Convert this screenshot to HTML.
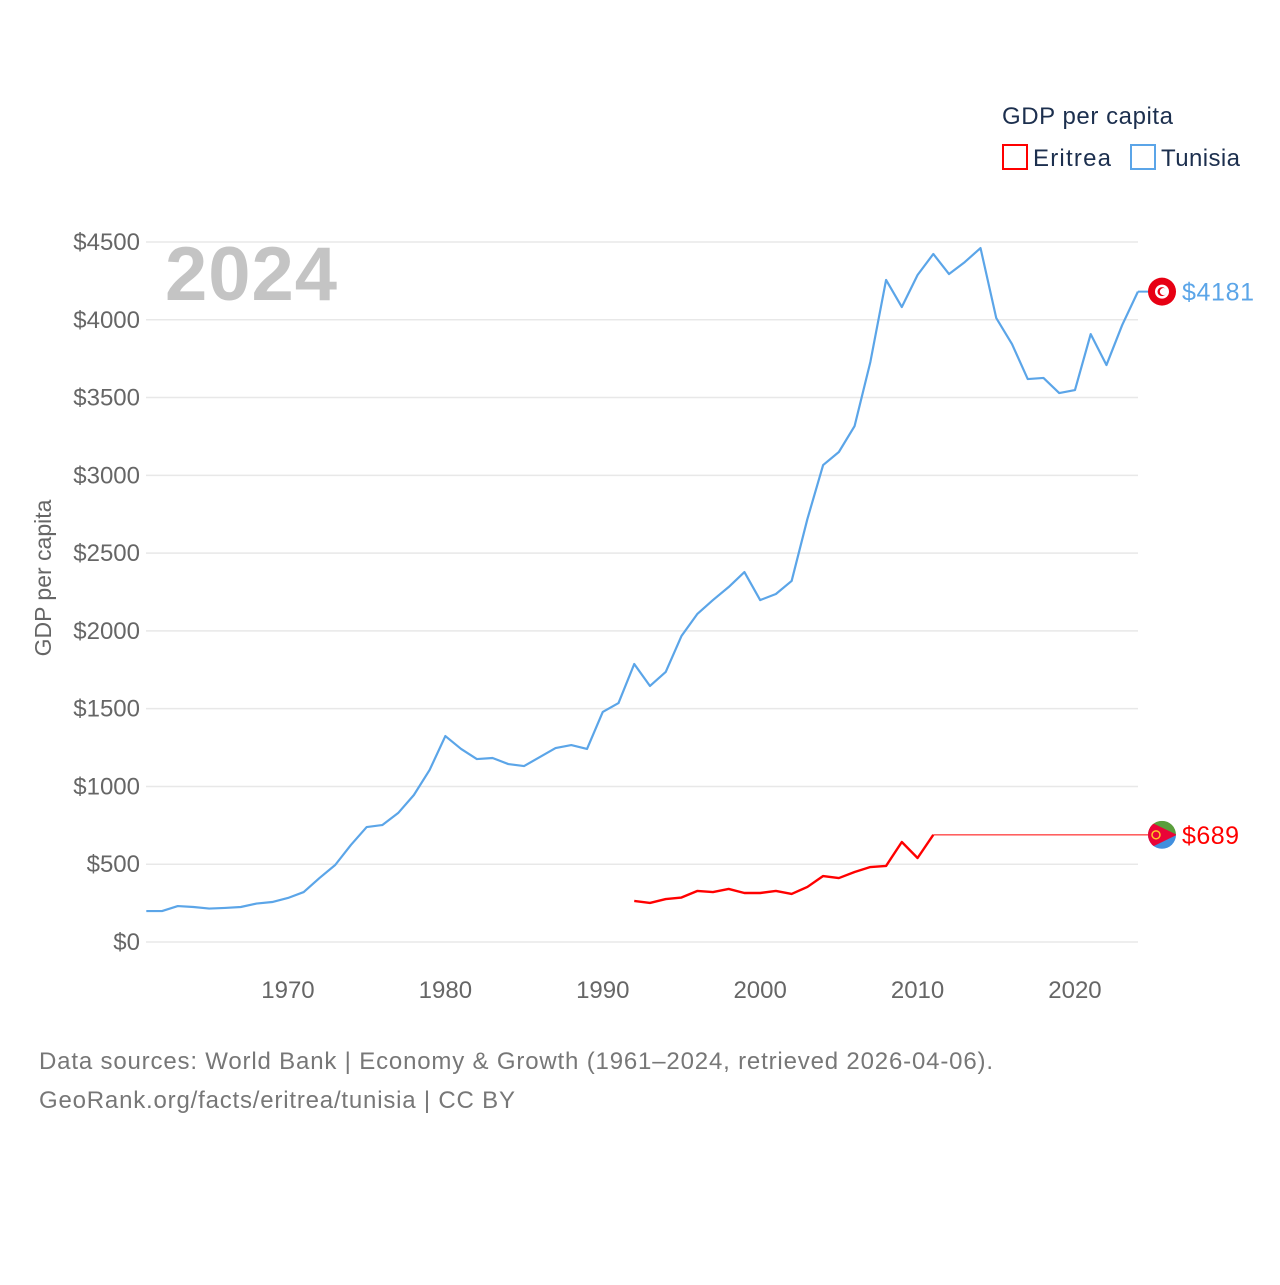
<!DOCTYPE html>
<html><head><meta charset="utf-8">
<style>
html,body{margin:0;padding:0;background:#fff;}
body{width:1280px;height:1280px;overflow:hidden;font-family:"Liberation Sans",sans-serif;}
svg text{font-family:"Liberation Sans",sans-serif;}
</style></head>
<body>
<svg id="chart" width="1280" height="1280" viewBox="0 0 1280 1280" xmlns="http://www.w3.org/2000/svg">
  <g id="grid"></g>
  <g id="yticks"></g>
  <g id="xticks"></g>
  <text x="165" y="300" font-size="76" font-weight="bold" fill="#c4c4c4" textLength="172">2024</text>
  <text transform="translate(51,578) rotate(-90)" text-anchor="middle" font-size="23" fill="#666">GDP per capita</text>
  <g id="series"></g>
  <g>
    <text x="1002" y="124" font-size="24" fill="#1c2f4e" textLength="171">GDP per capita</text>
    <g>
      <rect x="1003" y="145" width="24" height="24" fill="none" stroke="#ff0000" stroke-width="2"/>
      <text x="1033" y="166" font-size="24" fill="#1c2f4e" textLength="78">Eritrea</text>
    </g>
    <g>
      <rect x="1131" y="145" width="24" height="24" fill="none" stroke="#5ba5e8" stroke-width="2"/>
      <text x="1161" y="166" font-size="24" fill="#1c2f4e" textLength="79">Tunisia</text>
    </g>
  </g>
  <text x="39" y="1069" font-size="24" fill="#777" textLength="954">Data sources: World Bank | Economy &amp; Growth (1961–2024, retrieved 2026-04-06).</text>
  <text x="39" y="1108" font-size="24" fill="#777" textLength="476">GeoRank.org/facts/eritrea/tunisia | CC BY</text>
</svg>
<script>
const tunisiaYears = [];
for (let y = 1961; y <= 2024; y++) tunisiaYears.push(y);
const tunisiaValues = [199,199,231,225,215,219,225,247,257,283,321,411,495,624,739,752,829,945,1106,1324,1241,1176,1183,1144,1131,1189,1247,1266,1241,1479,1536,1787,1646,1736,1967,2108,2198,2282,2378,2198,2237,2321,2719,3066,3150,3317,3728,4256,4082,4288,4423,4294,4371,4461,4011,3844,3619,3626,3529,3548,3908,3709,3966,4181];
const eritreaYears = [1992,1993,1994,1995,1996,1997,1998,1999,2000,2001,2002,2003,2004,2005,2006,2007,2008,2009,2010,2011];
const eritreaValues = [264,251,276,286,328,321,341,315,315,328,309,354,424,411,450,482,489,643,540,689];
const yTicks = [0,500,1000,1500,2000,2500,3000,3500,4000,4500];
const xTicks = [1970,1980,1990,2000,2010,2020];

const NS = "http://www.w3.org/2000/svg";
const X0 = 146.3, XPY = 15.74, Y0 = 942, PPD = 700/4500;
const xs = yr => X0 + (yr - 1961) * XPY;
const ys = v => Y0 - v * PPD;
function mk(tag, attrs, parent){const e=document.createElementNS(NS,tag);for(const k in attrs)e.setAttribute(k,attrs[k]);parent.appendChild(e);return e;}

const grid = document.getElementById('grid'), yt = document.getElementById('yticks'), xt = document.getElementById('xticks');
yTicks.forEach(v=>{
  const l = mk('line',{x1:146,x2:1138,y1:ys(v),y2:ys(v),stroke:'#e8e8e8','stroke-width':1.5},grid);
  
  
  const t = mk('text',{x:140,y:ys(v)+8,'text-anchor':'end','font-size':24,fill:'#666'},yt);
  t.textContent = '$'+v;
  
  
});
xTicks.forEach(yr=>{
  const t = mk('text',{x:xs(yr),y:998,'text-anchor':'middle','font-size':24,fill:'#666'},xt);
  t.textContent = yr;
  
  
});

const ser = document.getElementById('series');
const tun = mk('polyline',{points:tunisiaYears.map((y,i)=>xs(y)+','+ys(tunisiaValues[i])).join(' '),fill:'none',stroke:'#5ba5e8','stroke-width':2.2,'stroke-linejoin':'round'},ser);


const eri = mk('polyline',{points:eritreaYears.map((y,i)=>xs(y)+','+ys(eritreaValues[i])).join(' '),fill:'none',stroke:'#ff0000','stroke-width':2.4,'stroke-linejoin':'round'},ser);


const lastE = eritreaValues[eritreaValues.length-1], lastEY = eritreaYears[eritreaYears.length-1];
const ext = mk('line',{x1:xs(lastEY),y1:ys(lastE),x2:1150,y2:ys(lastE),stroke:'#ff0000','stroke-width':1},ser);


const lastT = tunisiaValues[tunisiaValues.length-1];
const extT = mk('line',{x1:xs(2024),y1:ys(lastT),x2:1150,y2:ys(lastT),stroke:'#5ba5e8','stroke-width':2},ser);



const ty = ys(lastT);
const tf = mk('g',{},ser);


mk('circle',{cx:1162,cy:ty,r:14,fill:'#e70013'},tf);
mk('circle',{cx:1162,cy:ty,r:7,fill:'#fff'},tf);
mk('circle',{cx:1162,cy:ty,r:4.5,fill:'#e70013'},tf);
mk('circle',{cx:1163.5,cy:ty,r:3.6,fill:'#fff'},tf);
const tl = mk('text',{x:1182,y:ty+9,'font-size':25,fill:'#5ba5e8',textLength:72},ser);
tl.textContent = '$'+lastT;



const ey = ys(lastE);
const ef = mk('g',{},ser);


const cp = mk('clipPath',{id:'ec'},ef); mk('circle',{cx:1162,cy:ey,r:14},cp);
const eg = mk('g',{'clip-path':'url(#ec)'},ef);
mk('rect',{x:1148,y:ey-14,width:28,height:14,fill:'#5a9e3c'},eg);
mk('rect',{x:1148,y:ey,width:28,height:14,fill:'#418fde'},eg);
mk('polygon',{points:`1148,${ey-14} 1177,${ey} 1148,${ey+14}`,fill:'#ea0437'},eg);
mk('circle',{cx:1156,cy:ey,r:4,fill:'none',stroke:'#ffc726','stroke-width':1.5},eg);
const el = mk('text',{x:1182,y:ey+9,'font-size':25,fill:'#ff0000',textLength:57},ser);
el.textContent = '$'+lastE;


</script>
</body></html>
